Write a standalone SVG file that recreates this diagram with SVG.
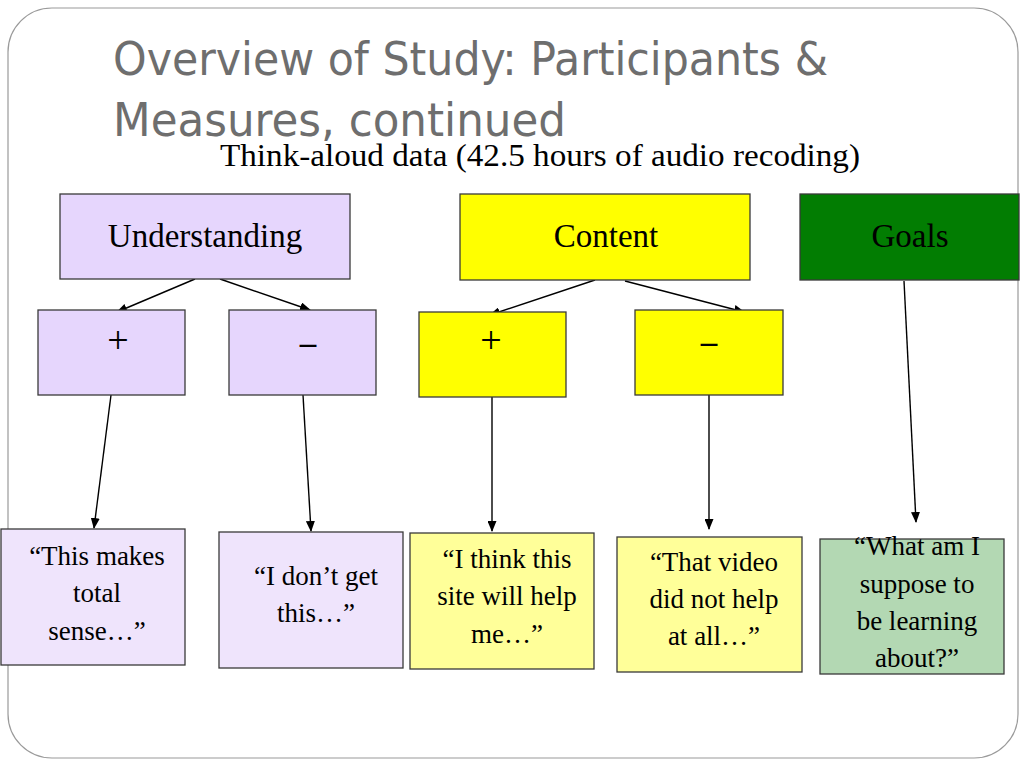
<svg xmlns="http://www.w3.org/2000/svg" width="1024" height="768" viewBox="0 0 1024 768">
<style>
.box{stroke:#3a3a3a;stroke-width:1.3}
.lav{fill:#E6D6FD}
.lav2{fill:#EFE4FC}
.yel{fill:#FFFF00}
.yel2{fill:#FFFF99}
.grn{fill:#027D02}
.grn2{fill:#B3D8B3}
.t{font-family:"Liberation Serif","Times New Roman",serif;fill:#000;text-anchor:middle}
.lbl{font-size:33px}
.sign{font-size:38px}
.q{font-size:27px}
.conn line{stroke:#000;stroke-width:1.4;marker-end:url(#ah)}
.title{font-family:"Liberation Sans Narrow","DejaVu Sans Condensed","Liberation Sans",sans-serif;font-size:46px;fill:#6E6E6E}
</style>
<defs>
<marker id="ah" markerWidth="11" markerHeight="9" refX="10" refY="4.5" orient="auto" markerUnits="userSpaceOnUse">
<path d="M0,0 L11,4.5 L0,9 Z" fill="#000"/>
</marker>
</defs>
<rect x="0" y="0" width="1024" height="768" fill="#fff"/>
<rect id="frame" x="8" y="8" width="1010" height="750" rx="44" ry="44" fill="#fff" stroke="#9a9a9a" stroke-width="1.2"/>
<g id="title">
<text class="title" x="113" y="75" textLength="715" lengthAdjust="spacingAndGlyphs">Overview of Study: Participants &amp;</text>
<text class="title" x="113" y="136" textLength="453" lengthAdjust="spacingAndGlyphs">Measures, continued</text>
</g>
<text id="subtitle" class="t" x="540" y="166" font-size="31" textLength="640" lengthAdjust="spacingAndGlyphs">Think-aloud data (42.5 hours of audio recoding)</text>
<g class="conn">
<line x1="195" y1="279" x2="117" y2="312"/>
<line x1="220" y1="279" x2="310" y2="310"/>
<line x1="595" y1="280" x2="490" y2="315"/>
<line x1="625" y1="281" x2="744" y2="312"/>
<line x1="904" y1="281" x2="916" y2="522"/>
<line x1="111" y1="395" x2="94" y2="528"/>
<line x1="303" y1="395" x2="311" y2="531"/>
<line x1="492" y1="397" x2="492" y2="531"/>
<line x1="709" y1="395" x2="709" y2="529"/>
</g>
<g id="understanding">
<rect class="box lav" x="60" y="194" width="290" height="85"/>
<text class="t lbl" x="205" y="247">Understanding</text>
</g>
<g id="content">
<rect class="box yel" x="460" y="194" width="290" height="86"/>
<text class="t lbl" x="606" y="247">Content</text>
</g>
<g id="goals">
<rect class="box grn" x="800" y="194" width="219" height="86"/>
<text class="t lbl" x="910" y="247">Goals</text>
</g>
<g id="u-plus">
<rect class="box lav" x="38" y="310" width="147" height="85"/>
<text class="t sign" x="118" y="353">+</text>
</g>
<g id="u-minus">
<rect class="box lav" x="229" y="310" width="147" height="85"/>
<text class="t lbl" x="308" y="354" font-weight="bold">–</text>
</g>
<g id="c-plus">
<rect class="box yel" x="419" y="312" width="147" height="85"/>
<text class="t sign" x="491" y="353">+</text>
</g>
<g id="c-minus">
<rect class="box yel" x="635" y="310" width="148" height="85"/>
<text class="t lbl" x="709" y="353" font-weight="bold">–</text>
</g>
<g id="q1">
<rect class="box lav2" x="1" y="529" width="184" height="136"/>
<text class="t q" x="97" y="565">“This makes</text>
<text class="t q" x="97" y="602">total</text>
<text class="t q" x="97" y="640">sense…”</text>
</g>
<g id="q2">
<rect class="box lav2" x="219" y="532" width="184" height="136"/>
<text class="t q" x="316" y="585">“I don’t get</text>
<text class="t q" x="316" y="622">this…”</text>
</g>
<g id="q3">
<rect class="box yel2" x="410" y="533" width="184" height="136"/>
<text class="t q" x="507" y="568">“I think this</text>
<text class="t q" x="507" y="605">site will help</text>
<text class="t q" x="507" y="643">me…”</text>
</g>
<g id="q4">
<rect class="box yel2" x="617" y="537" width="185" height="135"/>
<text class="t q" x="714" y="571">“That video</text>
<text class="t q" x="714" y="608">did not help</text>
<text class="t q" x="714" y="645">at all…”</text>
</g>
<g id="q5">
<rect class="box grn2" x="820" y="539" width="184" height="135"/>
<text class="t q" x="917" y="555">“What am I</text>
<text class="t q" x="917" y="593">suppose to</text>
<text class="t q" x="917" y="630">be learning</text>
<text class="t q" x="917" y="667">about?”</text>
</g>
</svg>
